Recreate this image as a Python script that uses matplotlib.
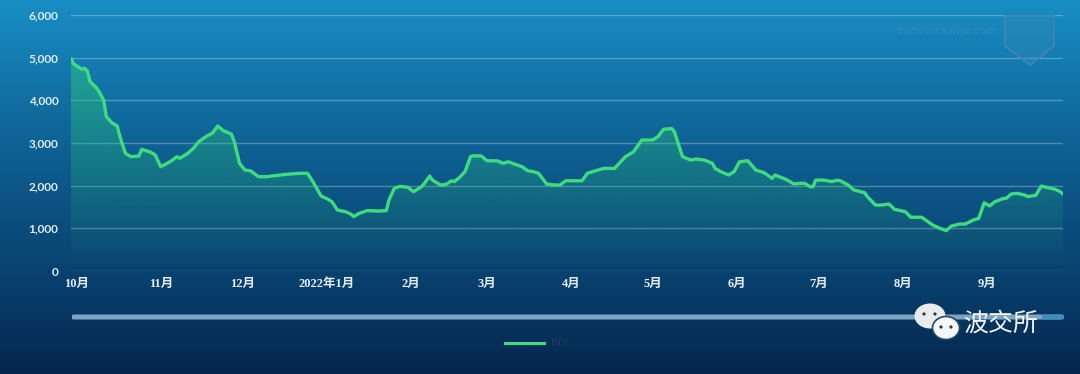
import numpy as np
import pandas as pd
import matplotlib
matplotlib.use("Agg")
import matplotlib.pyplot as plt
import matplotlib.dates as mdates
from matplotlib.patches import Ellipse, Polygon, FancyBboxPatch

# ---------------- data ----------------
dates = [
    "2021-09-29", "2021-09-30", "2021-10-03", "2021-10-04", "2021-10-05", "2021-10-06",
    "2021-10-08", "2021-10-09", "2021-10-11", "2021-10-12", "2021-10-14", "2021-10-16",
    "2021-10-17", "2021-10-19", "2021-10-21", "2021-10-24", "2021-10-25", "2021-10-28",
    "2021-10-30", "2021-11-01", "2021-11-03", "2021-11-05", "2021-11-07", "2021-11-08",
    "2021-11-11", "2021-11-13", "2021-11-15", "2021-11-18", "2021-11-20", "2021-11-22",
    "2021-11-24", "2021-11-27", "2021-11-28", "2021-11-30", "2021-12-02", "2021-12-04",
    "2021-12-07", "2021-12-10", "2021-12-17", "2021-12-22", "2021-12-25", "2021-12-27",
    "2021-12-30", "2022-01-01", "2022-01-03", "2022-01-05", "2022-01-08", "2022-01-10",
    "2022-01-11", "2022-01-13", "2022-01-16", "2022-01-20", "2022-01-23", "2022-01-24",
    "2022-01-26", "2022-01-28", "2022-01-31", "2022-02-02", "2022-02-05", "2022-02-06",
    "2022-02-08", "2022-02-09", "2022-02-12", "2022-02-14", "2022-02-16", "2022-02-17",
    "2022-02-19", "2022-02-21", "2022-02-23", "2022-02-24", "2022-02-27", "2022-03-01",
    "2022-03-05", "2022-03-07", "2022-03-09", "2022-03-11", "2022-03-14", "2022-03-16",
    "2022-03-18", "2022-03-20", "2022-03-23", "2022-03-26", "2022-03-28", "2022-03-30",
    "2022-04-05", "2022-04-07", "2022-04-10", "2022-04-13", "2022-04-17", "2022-04-21",
    "2022-04-24", "2022-04-27", "2022-05-01", "2022-05-03", "2022-05-05", "2022-05-08",
    "2022-05-09", "2022-05-12", "2022-05-15", "2022-05-17", "2022-05-20", "2022-05-23",
    "2022-05-24", "2022-05-26", "2022-05-29", "2022-05-31", "2022-06-02", "2022-06-05",
    "2022-06-08", "2022-06-11", "2022-06-14", "2022-06-15", "2022-06-19", "2022-06-22",
    "2022-06-24", "2022-06-26", "2022-06-28", "2022-06-29", "2022-06-30", "2022-07-03",
    "2022-07-06", "2022-07-08", "2022-07-09", "2022-07-12", "2022-07-14", "2022-07-18",
    "2022-07-19", "2022-07-22", "2022-07-24", "2022-07-27", "2022-07-29", "2022-08-02",
    "2022-08-04", "2022-08-08", "2022-08-12", "2022-08-14", "2022-08-17", "2022-08-19",
    "2022-08-22", "2022-08-24", "2022-08-27", "2022-08-29", "2022-08-31", "2022-09-02",
    "2022-09-04", "2022-09-07", "2022-09-08", "2022-09-10", "2022-09-12", "2022-09-15",
    "2022-09-16", "2022-09-19", "2022-09-21", "2022-09-23", "2022-09-26", "2022-09-28",
    "2022-09-29",
]
bdi = [
    4980, 4850, 4730, 4750, 4690, 4440,
    4320, 4240, 4010, 3620, 3475, 3400,
    3150, 2760, 2680, 2695, 2850, 2795,
    2720, 2445, 2510, 2585, 2680, 2640,
    2760, 2875, 3030, 3165, 3230, 3400,
    3290, 3210, 3050, 2525, 2365, 2350,
    2210, 2210, 2265, 2290, 2290, 2095,
    1760, 1700, 1625, 1430, 1390, 1335,
    1275, 1350, 1415, 1405, 1415, 1665,
    1940, 1985, 1960, 1860, 1975, 2055,
    2225, 2130, 2015, 2030, 2115, 2095,
    2195, 2330, 2680, 2700, 2695, 2585,
    2580, 2525, 2560, 2510, 2445, 2350,
    2330, 2290, 2040, 2015, 2015, 2115,
    2115, 2290, 2350, 2405, 2405, 2680,
    2795, 3070, 3070, 3150, 3320, 3340,
    3265, 2680, 2600, 2625, 2600, 2525,
    2405, 2330, 2250, 2330, 2560, 2585,
    2365, 2305, 2170, 2250, 2150, 2040,
    2055, 2055, 1975, 1975, 2130, 2130,
    2095, 2130, 2115, 2015, 1900, 1835,
    1745, 1545, 1545, 1570, 1445, 1390,
    1260, 1260, 1080, 1020, 945, 1055,
    1100, 1100, 1195, 1235, 1600, 1525,
    1625, 1700, 1700, 1805, 1820, 1780,
    1745, 1775, 1990, 1960, 1915, 1860,
    1805,
]
month_ticks = ["2021-10-01", "2021-11-01", "2021-12-01", "2022-01-01", "2022-02-01",
               "2022-03-01", "2022-04-01", "2022-05-01", "2022-06-01", "2022-07-01",
               "2022-08-01", "2022-09-01"]
month_labels = ["10月", "11月", "12月", "2022年1月", "2月", "3月", "4月", "5月",
                "6月", "7月", "8月", "9月"]
y_ticks = [0, 1000, 2000, 3000, 4000, 5000, 6000]
series_name = "BDI"

# ---------------- figure ----------------
W, H = 1080, 374
fig = plt.figure(figsize=(W / 100, H / 100), dpi=100)

# background gradient
bg = fig.add_axes([0, 0, 1, 1], zorder=-10)
stops_y = np.array([0, 150, 271, 374]) / H
stops_c = np.array([[24, 142, 196], [14, 96, 146], [9, 66, 112], [4, 38, 78]]) / 255.0
yy = np.linspace(0, 1, 400)
grad = np.stack([np.interp(yy, stops_y, stops_c[:, k]) for k in range(3)], axis=-1)
img = np.repeat(grad[:, None, :], 2, axis=1)
bg.imshow(img, aspect="auto", extent=[0, 1, 1, 0])
bg.set_xlim(0, 1); bg.set_ylim(1, 0)
bg.axis("off")

left, right = 71 / W, 1063 / W
bottom, top = (H - 271) / H, (H - 15) / H
ax = fig.add_axes([left, bottom, right - left, top - bottom])
ax.set_facecolor("none")
for s in ax.spines.values():
    s.set_visible(False)

x = mdates.date2num(pd.to_datetime(dates))
y = np.array(bdi, dtype=float)

# grid lines
for v in y_ticks:
    ax.axhline(v, color=(1, 1, 1, 0.28), lw=1.0, zorder=0)

# gradient area fill clipped to the area under the line
green = np.array([46, 204, 120]) / 255.0
poly = ax.fill_between(x, y, 0, facecolor="none", edgecolor="none")
n = 256
alpha = np.linspace(0.5, 0.0, n)
rgba = np.zeros((n, 1, 4))
rgba[..., :3] = green
rgba[:, 0, 3] = alpha
im = ax.imshow(rgba, extent=[x[0], x[-1], 0, y.max()], aspect="auto",
               origin="upper", zorder=1)
im.set_clip_path(poly.get_paths()[0], ax.transData)

ax.plot(x, y, color="#3fdc7e", lw=2.4, solid_joinstyle="round",
        solid_capstyle="round", zorder=3)
ax.set_xlim(x[0], x[-1])
ax.set_ylim(0, 6000)

# ticks
ax.set_yticks(y_ticks)
ax.set_yticklabels([f"{v:,}" for v in y_ticks], family=["Lato", "DejaVu Sans"],
                   fontweight="bold", fontsize=8.5, color="#e2ecf4")
ax.tick_params(axis="y", length=0, pad=9)
ax.set_xticks(mdates.date2num(pd.to_datetime(month_ticks)))
ax.set_xticklabels(month_labels, family=["Liberation Serif", "Noto Sans CJK SC"],
                   fontweight="bold", fontsize=9, color="#e6eef5")
ax.tick_params(axis="x", length=0, pad=5)

# data-zoom slider bar
fig.patches.append(FancyBboxPatch((72 / W, (H - 319.5) / H), (1062 - 72) / W, 5 / H,
                                  boxstyle="round,pad=0,rounding_size=0.002",
                                  transform=fig.transFigure, facecolor="#7fa4c2",
                                  edgecolor="none", zorder=2))
fig.patches.append(FancyBboxPatch((1042 / W, (H - 319.5) / H), (1064 - 1042) / W, 5 / H,
                                  boxstyle="round,pad=0,rounding_size=0.002",
                                  transform=fig.transFigure, facecolor="#3f8ec0",
                                  edgecolor="none", zorder=2))

# legend
fig.add_artist(plt.Line2D([505 / W, 544 / W], [(H - 343) / H] * 2,
                          transform=fig.transFigure, color="#3fdc7e", lw=2.2))
fig.text(551 / W, (H - 343) / H, series_name, color="#1c3f63", fontsize=7,
         va="center", ha="left", family="DejaVu Sans")

# watermark text and shield
fig.text(995 / W, (H - 31) / H, "balticexchange.com", color="#3b86b6", fontsize=7,
         va="center", ha="right", family="DejaVu Sans")
shield = Polygon([(1005 / W, (H - 16) / H), (1054 / W, (H - 16) / H),
                  (1054 / W, (H - 46) / H), (1030 / W, (H - 65) / H),
                  (1005 / W, (H - 46) / H)], closed=True, transform=fig.transFigure,
                 facecolor=(0.25, 0.55, 0.72, 0.25), edgecolor="#3b86b6", lw=1.5)
fig.patches.append(shield)

# WeChat watermark
fig.patches.append(Ellipse((930 / W, (H - 316) / H), 31 / W, 25 / H,
                           transform=fig.transFigure, facecolor="#e8ecef",
                           edgecolor="none", zorder=5))
fig.patches.append(Ellipse((946 / W, (H - 328) / H), 27 / W, 23 / H,
                           transform=fig.transFigure, facecolor="#f4f6f8",
                           edgecolor="#22466a", lw=1.2, zorder=6))
for ex, ey in [(924, 314), (935, 314), (941, 327), (951, 327)]:
    fig.patches.append(Ellipse((ex / W, (H - ey) / H), 3.2 / W, 3.2 / H,
                               transform=fig.transFigure, facecolor="#333333",
                               edgecolor="none", zorder=7))
fig.text(963 / W, (H - 324) / H, "波交所", color="#f2f4f6", fontsize=18,
         va="center", ha="left", family=["Noto Sans CJK SC", "DejaVu Sans"], zorder=8)

fig.savefig("out.png", dpi=100)
